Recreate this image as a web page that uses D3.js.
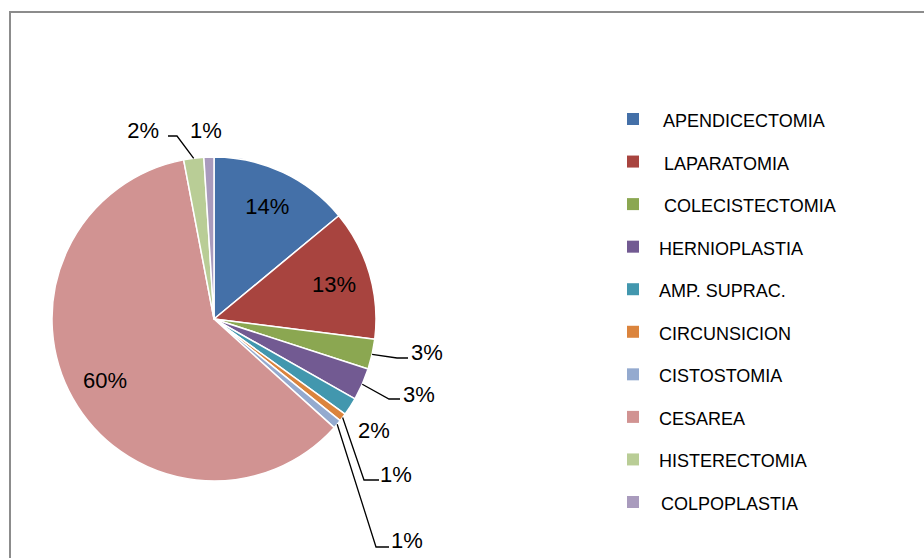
<!DOCTYPE html>
<html>
<head>
<meta charset="utf-8">
<script src="https://cdn.jsdelivr.net/npm/d3@7"></script>
<style>
  body { margin: 0; background: #fff; }
  .legend text { font-family: "Liberation Sans", Arial, sans-serif; font-size: 18px; fill: #000; white-space: pre; }
  .pct { font-family: "Liberation Sans", Arial, sans-serif; font-size: 22px; fill: #000; }
</style>
</head>
<body>
<div id="chart"></div>
<script>
// Pie chart: cirugias por tipo

var categories = [" APENDICECTOMIA", " LAPARATOMIA", " COLECISTECTOMIA", "HERNIOPLASTIA", "AMP. SUPRAC.",
  "CIRCUNSICION", "CISTOSTOMIA", "CESAREA", "HISTERECTOMIA", "COLPOPLASTIA"];
var shares = [14.0, 13.0, 3.0, 3.2, 1.8, 0.8, 0.9, 60.3, 2.0, 1.0];
var colors = ["#4470a8", "#a8443f", "#8ba751", "#725a92", "#4297ae",
  "#db843d", "#94aacf", "#d19392", "#b9cd96", "#a99bbd"];

// where Excel put each label (offsets from pie centre); null = inside the slice
var labelLayout = [
  null,
  null,
  { text: [197, 41], elbow: [183, 39], end: [194, 39] },
  { text: [189, 83], elbow: [175, 80], end: [186, 80] },
  { text: [144, 119] },
  { text: [166, 163], elbow: [150, 161], end: [165, 161] },
  { text: [177, 229], elbow: [162, 228], end: [175, 228] },
  null,
  { text: [-55, -181], elbow: [-37, -183], end: [-46, -183], anchor: "end" },
  { text: [-24, -181] }
];

var width = 924, height = 558;
var cx = 214, cy = 319, radius = 162;

var svg = d3.select("#chart")
  .append("svg")
  .attr("width", width)
  .attr("height", height);

// frame (only left and top edges are visible)
svg.append("path")
  .attr("d", "M10,558 V12 H924")
  .attr("fill", "none")
  .attr("stroke", "#8c8c8c")
  .attr("stroke-width", 2);

var data = categories.map(function(c, i) {
  return { name: c, value: shares[i], color: colors[i], layout: labelLayout[i] };
});
var total = d3.sum(shares);
var fmt = d3.format(".0%");

var pie = d3.pie().sort(null).value(function(d) { return d.value; });
var arc = d3.arc().innerRadius(0).outerRadius(radius);
var labelArc = d3.arc().innerRadius(125).outerRadius(125);
var edgeArc = d3.arc().innerRadius(radius).outerRadius(radius);

var g = svg.append("g")
  .attr("transform", "translate(" + cx + "," + cy + ")");

var arcs = pie(data);

g.selectAll("path.slice")
  .data(arcs)
  .enter().append("path")
  .attr("class", "slice")
  .attr("d", arc)
  .attr("fill", function(d) { return d.data.color; })
  .attr("stroke", "#fff")
  .attr("stroke-width", 1.5)
  .attr("stroke-linejoin", "round");

// leader lines
g.selectAll("path.leader")
  .data(arcs.filter(function(d) { return d.data.layout && d.data.layout.elbow; }))
  .enter().append("path")
  .attr("class", "leader")
  .attr("fill", "none")
  .attr("stroke", "#000")
  .attr("stroke-width", 1.3)
  .attr("d", function(d) {
    var s = edgeArc.centroid(d), l = d.data.layout;
    return "M" + s[0] + "," + s[1] + "L" + l.elbow[0] + "," + l.elbow[1] + "L" + l.end[0] + "," + l.end[1];
  });

// percentage labels
g.selectAll("text.pct")
  .data(arcs)
  .enter().append("text")
  .attr("class", "pct")
  .each(function(d) {
    var t = d3.select(this), l = d.data.layout;
    if (l) {
      t.attr("x", l.text[0]).attr("y", l.text[1])
        .attr("text-anchor", l.anchor || "start");
    } else {
      var c = labelArc.centroid(d);
      t.attr("x", c[0]).attr("y", c[1])
        .attr("text-anchor", "middle")
        .attr("dy", "0.36em");
    }
  })
  .text(function(d) { return fmt(d.data.value / total); });

// legend
var legendY = d3.scalePoint()
  .domain(categories)
  .range([119, 502]);

var legend = svg.append("g").attr("class", "legend");

var items = legend.selectAll("g")
  .data(data)
  .enter().append("g")
  .attr("transform", function(d) { return "translate(627," + legendY(d.name) + ")"; });

items.append("rect")
  .attr("x", 0)
  .attr("y", -6)
  .attr("width", 12)
  .attr("height", 12)
  .attr("fill", function(d) { return d.color; });

items.append("text")
  .attr("x", function(d) { return d.name === "COLPOPLASTIA" ? 34 : 32; })
  .attr("y", 8)
  .text(function(d) { return d.name; });
</script>
</body>
</html>
